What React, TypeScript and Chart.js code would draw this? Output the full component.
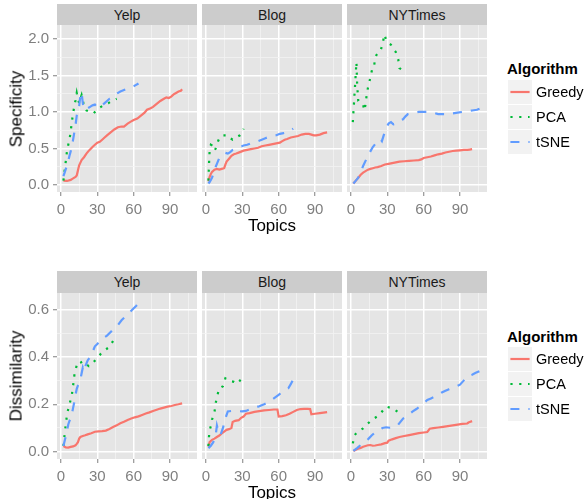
import React, { useEffect, useRef } from 'react';
import { Chart, registerables } from 'chart.js';

Chart.register(...registerables);

// ---------- data ----------
const facets = ['Yelp', 'Blog', 'NYTimes'];
const algorithms = ['Greedy', 'PCA', 'tSNE'];
const xTickValues = [0, 15, 30, 45, 60, 75, 90, 105];
const specTickValues = [0, 0.25, 0.5, 0.75, 1, 1.25, 1.5, 1.75, 2];
const dissTickValues = [0, 0.1, 0.2, 0.3, 0.4, 0.5, 0.6];

// Specificity – Yelp
const specYelpGreedyX = [2,5,8,10,12,13,14,15,17,19,21,23,26,28,30,32,34,36,38,41,44,47,50,52,55,58,60,63,66,69,71,74,76,79,82,85,87,89,91,93,95,97,99,100];
const specYelpGreedyY = [0.06,0.055,0.07,0.09,0.11,0.13,0.2,0.27,0.34,0.38,0.43,0.47,0.52,0.55,0.58,0.59,0.62,0.65,0.68,0.72,0.76,0.79,0.80,0.80,0.84,0.87,0.89,0.91,0.95,0.99,1.03,1.05,1.07,1.11,1.15,1.18,1.20,1.19,1.21,1.24,1.26,1.28,1.29,1.31];
const specYelpPcaX = [2,3,4,5,6,7,8,9,10,11,12,13,14,15,16,17,18,19,21,24,27,30,33,36,39,42,46];
const specYelpPcaY = [0.06,0.2,0.33,0.47,0.55,0.62,0.73,0.87,0.98,1.08,1.16,1.26,1.18,1.12,1.18,1.23,1.16,1.08,1.02,1.0,0.98,1.04,1.07,1.1,1.12,1.15,1.18];
const specYelpTsneX = [2,3,4,5,6,7,8,9,10,11,12,13,14,15,16,17,18,19,20,22,24,26,28,30,32,34,36,38,40,43,46,49,52,55,58,61,64];
const specYelpTsneY = [0.12,0.17,0.22,0.27,0.33,0.40,0.46,0.52,0.62,0.72,0.82,0.95,1.02,1.08,1.22,1.27,1.12,1.04,1.03,1.05,1.07,1.09,1.10,1.06,1.07,1.09,1.12,1.15,1.18,1.21,1.25,1.28,1.30,1.32,1.34,1.36,1.39];

// Specificity – Blog
const specBlogGreedyX = [2,3,4,5,7,9,11,13,15,16,17,19,21,23,25,28,31,34,37,40,43,46,49,52,55,58,61,63,65,67,70,73,76,79,82,85,87,89,91,94,97,100];
const specBlogGreedyY = [0.05,0.11,0.15,0.18,0.21,0.22,0.21,0.22,0.23,0.28,0.32,0.36,0.40,0.42,0.43,0.45,0.47,0.48,0.49,0.50,0.51,0.53,0.54,0.55,0.56,0.57,0.58,0.60,0.62,0.63,0.65,0.66,0.67,0.69,0.70,0.70,0.69,0.68,0.68,0.69,0.71,0.72];
const specBlogPcaX = [2,2.3,2.6,3,3.5,4,5,6,7,8,9,10,11,12,13,14,16,18,20,22,24,26,28,30,31];
const specBlogPcaY = [0.06,0.2,0.33,0.47,0.52,0.55,0.54,0.5,0.47,0.5,0.55,0.6,0.64,0.66,0.67,0.68,0.68,0.68,0.64,0.62,0.64,0.66,0.68,0.72,0.77];
const specBlogTsneX = [2,3,4,5,6,7,8,9,10,11,12,14,16,18,20,22,25,28,31,34,37,40,43,46,49,52,55,58,61,64,67,70,72];
const specBlogTsneY = [0.02,0.04,0.07,0.1,0.15,0.2,0.25,0.29,0.33,0.37,0.39,0.42,0.44,0.43,0.45,0.48,0.50,0.52,0.54,0.55,0.57,0.58,0.60,0.62,0.64,0.66,0.67,0.68,0.70,0.71,0.72,0.75,0.77];

// Specificity – NYTimes
const specNytGreedyX = [2,4,6,8,10,12,14,16,18,20,22,25,28,31,34,37,40,44,48,52,56,58,60,63,66,69,72,75,78,81,84,87,90,93,96,98,100];
const specNytGreedyY = [0.02,0.06,0.1,0.14,0.17,0.19,0.21,0.22,0.23,0.24,0.245,0.26,0.28,0.29,0.30,0.31,0.32,0.325,0.33,0.335,0.34,0.35,0.37,0.38,0.39,0.405,0.42,0.43,0.445,0.455,0.465,0.47,0.475,0.48,0.48,0.485,0.49];
const specNytPcaX = [1.5,2,2.5,3,3.5,4,4.5,5,5.5,6,7,8,9,10,11,12,13,14,15,16,17,18,19,20,21,22,24,26,27.5,29,31,33,35,37,39,40,42,45];
const specNytPcaY = [0.86,1.0,1.13,1.27,1.40,1.55,1.68,1.41,1.27,1.15,1.13,1.12,1.11,1.10,1.02,1.10,1.24,1.33,1.40,1.47,1.55,1.61,1.62,1.74,1.78,1.80,1.82,1.92,2.06,1.99,1.94,1.92,1.86,1.82,1.72,1.60,1.58,1.57];
const specNytTsneX = [2,4,6,8,10,12,14,16,18,20,22,24,25.5,27,29,31,33,35,37,40,43,45,47,50,53,56,60,64,68,72,76,80,84,88,92,96,100,104,107];
const specNytTsneY = [0.02,0.06,0.1,0.18,0.26,0.33,0.40,0.46,0.52,0.56,0.6,0.63,0.60,0.68,0.78,0.84,0.86,0.83,0.84,0.88,0.90,0.94,0.97,0.98,0.99,1.0,1.0,1.0,0.99,0.97,0.97,0.97,0.98,0.99,1.0,1.01,1.02,1.03,1.05];

// Dissimilarity – Yelp
const dissYelpGreedyX = [2,4,6,8,10,12,13,14,15,16,18,20,22,25,28,31,34,37,40,43,46,49,52,55,58,61,64,67,70,73,76,79,82,85,88,91,94,97,100];
const dissYelpGreedyY = [0.024,0.018,0.017,0.02,0.022,0.027,0.033,0.04,0.055,0.062,0.066,0.069,0.073,0.078,0.084,0.086,0.087,0.089,0.096,0.104,0.111,0.12,0.126,0.134,0.14,0.145,0.149,0.155,0.161,0.166,0.172,0.177,0.182,0.186,0.19,0.193,0.197,0.2,0.204];
const dissYelpPcaX = [2,3,4,5,6,7,8,9,10,11,12,13,14,15,16,18,20,23,26,29,33,36,40,44];
const dissYelpPcaY = [0.024,0.073,0.118,0.157,0.18,0.199,0.22,0.241,0.279,0.321,0.345,0.365,0.36,0.372,0.375,0.382,0.372,0.361,0.375,0.389,0.414,0.428,0.442,0.476];
const dissYelpTsneX = [2,3,4,5,6,7,8,9,10,11,12,13,14,15,16,17,18,19,20,22,24,26,28,30,32,35,38,41,44,47,50,53,56,59,62,65];
const dissYelpTsneY = [0.024,0.045,0.066,0.09,0.115,0.13,0.14,0.16,0.185,0.21,0.24,0.265,0.28,0.29,0.305,0.33,0.355,0.34,0.36,0.385,0.40,0.42,0.445,0.455,0.465,0.48,0.49,0.505,0.52,0.535,0.555,0.57,0.585,0.60,0.615,0.632];

// Dissimilarity – Blog
const dissBlogGreedyX = [2,3,5,7,9,11,13,15,17,19,21,22,24,27,29,31,33,36,40,44,48,52,56,59,60,63,66,69,72,75,78,81,84,86,87,90,94,97,100];
const dissBlogGreedyY = [0.021,0.04,0.05,0.055,0.062,0.068,0.077,0.085,0.092,0.095,0.1,0.125,0.13,0.133,0.143,0.148,0.16,0.163,0.168,0.171,0.174,0.176,0.178,0.178,0.148,0.15,0.154,0.16,0.168,0.176,0.18,0.181,0.181,0.180,0.158,0.16,0.163,0.165,0.167];
const dissBlogPcaX = [2,2.5,3,4,5,6,7,8,9,10,11,12,14,16,18,20,23,26,28,30];
const dissBlogPcaY = [0.024,0.066,0.09,0.108,0.136,0.15,0.167,0.206,0.227,0.25,0.269,0.27,0.276,0.31,0.305,0.298,0.295,0.287,0.3,0.312];
const dissBlogTsneX = [2,4,6,8,9,10,12,14,16,18,21,24,27,30,33,36,40,44,48,52,56,60,64,68,70,71.5];
const dissBlogTsneY = [0.015,0.025,0.04,0.07,0.11,0.09,0.07,0.1,0.14,0.17,0.172,0.172,0.171,0.17,0.172,0.178,0.185,0.192,0.2,0.21,0.225,0.24,0.255,0.268,0.285,0.3];

// Dissimilarity – NYTimes
const dissNytGreedyX = [2,4,6,8,10,12,14,16,18,20,22,25,28,30,31,34,37,40,44,48,52,56,60,63,64,65,68,72,76,80,84,88,92,96,97,98,100];
const dissNytGreedyY = [0.003,0.008,0.013,0.016,0.021,0.024,0.027,0.028,0.025,0.026,0.028,0.031,0.036,0.038,0.046,0.052,0.057,0.062,0.066,0.07,0.074,0.078,0.081,0.083,0.09,0.097,0.099,0.102,0.105,0.108,0.111,0.114,0.117,0.119,0.123,0.125,0.129];
const dissNytPcaX = [1.5,3,5,7,10,13,16,19,22,25,27,29,32,35,38,41];
const dissNytPcaY = [0.035,0.07,0.082,0.09,0.098,0.115,0.128,0.14,0.15,0.165,0.178,0.19,0.186,0.181,0.17,0.158];
const dissNytTsneX = [2,5,8,11,14,17,20,23,26,29,32,35,38,41,43,45,48,51,54,57,60,63,66,69,72,75,78,81,84,87,90,93,96,100,103,106];
const dissNytTsneY = [0.003,0.015,0.028,0.038,0.052,0.068,0.082,0.09,0.1,0.103,0.101,0.102,0.108,0.127,0.14,0.145,0.158,0.17,0.18,0.192,0.205,0.218,0.225,0.232,0.24,0.25,0.257,0.264,0.27,0.276,0.283,0.3,0.318,0.325,0.333,0.34];

// ---------- styling ----------
const FONT = '"Liberation Sans", Arial, Helvetica, sans-serif';
const COLORS: Record<string, string> = { Greedy: '#F8766D', PCA: '#00BA38', tSNE: '#619CFF' };
const DASH: Record<string, number[]> = { Greedy: [], PCA: [2.2, 6.6], tSNE: [9, 9] };
const LINE_W = 2.2;
const PANEL_LEFT = [57, 202, 347];
const PANEL_W = 140;
const AXIS_W = 57;
const AXIS_H = 30;
const X_MIN = -3.3;
const X_MAX = 112.3;

type Series = { x: number[]; y: number[] }[];

const rows = [
  {
    title: 'Specificity',
    stripTop: 4,
    panelTop: 25,
    panelH: 167,
    yMin: -0.096,
    yMax: 2.19,
    yTicks: specTickValues,
    isMajorY: (v: number) => Math.abs(v * 2 - Math.round(v * 2)) < 1e-6,
    series: [
      [{ x: specYelpGreedyX, y: specYelpGreedyY }, { x: specYelpPcaX, y: specYelpPcaY }, { x: specYelpTsneX, y: specYelpTsneY }],
      [{ x: specBlogGreedyX, y: specBlogGreedyY }, { x: specBlogPcaX, y: specBlogPcaY }, { x: specBlogTsneX, y: specBlogTsneY }],
      [{ x: specNytGreedyX, y: specNytGreedyY }, { x: specNytPcaX, y: specNytPcaY }, { x: specNytTsneX, y: specNytTsneY }],
    ] as Series[],
    legendTitleY: 68.3,
    legendRowTop: 80.3,
    xTitleY: 224.5,
  },
  {
    title: 'Dissimilarity',
    stripTop: 271,
    panelTop: 293,
    panelH: 166,
    yMin: -0.031,
    yMax: 0.67,
    yTicks: dissTickValues,
    isMajorY: (v: number) => Math.abs(v * 5 - Math.round(v * 5)) < 1e-6,
    series: [
      [{ x: dissYelpGreedyX, y: dissYelpGreedyY }, { x: dissYelpPcaX, y: dissYelpPcaY }, { x: dissYelpTsneX, y: dissYelpTsneY }],
      [{ x: dissBlogGreedyX, y: dissBlogGreedyY }, { x: dissBlogPcaX, y: dissBlogPcaY }, { x: dissBlogTsneX, y: dissBlogTsneY }],
      [{ x: dissNytGreedyX, y: dissNytGreedyY }, { x: dissNytPcaX, y: dissNytPcaY }, { x: dissNytTsneX, y: dissNytTsneY }],
    ] as Series[],
    legendTitleY: 336,
    legendRowTop: 347,
    xTitleY: 491.5,
  },
];

const panelBg = {
  id: 'panelBg',
  beforeDraw(chart: any) {
    const { ctx, chartArea: a } = chart;
    ctx.save();
    ctx.fillStyle = '#E5E5E5';
    ctx.fillRect(a.left, a.top, a.right - a.left, a.bottom - a.top);
    ctx.restore();
  },
};

const isMajorX = (v: number) => Math.abs(v % 30) < 1e-6;

function Panel(props: {
  col: number;
  row: (typeof rows)[number];
}) {
  const { col, row } = props;
  const ref = useRef<HTMLCanvasElement>(null);
  const width = AXIS_W + PANEL_W;
  const height = row.panelH + AXIS_H;
  useEffect(() => {
    const showY = col === 0;
    const series = row.series[col];
    const chart = new Chart(ref.current as HTMLCanvasElement, {
      type: 'line',
      data: {
        datasets: algorithms.map((name, i) => ({
          label: name,
          data: series[i].x.map((x, j) => ({ x, y: series[i].y[j] })),
          borderColor: COLORS[name],
          borderWidth: LINE_W,
          borderDash: DASH[name],
          borderCapStyle: 'butt',
          pointRadius: 0,
          tension: 0,
          fill: false,
          order: 2 - i,
        })),
      },
      options: {
        responsive: false,
        animation: false,
        events: [],
        layout: { padding: 0 },
        plugins: {
          legend: { display: false },
          tooltip: { enabled: false },
          title: { display: false },
        },
        scales: {
          x: {
            type: 'linear',
            min: X_MIN,
            max: X_MAX,
            afterBuildTicks: (s: any) => {
              s.ticks = xTickValues.map((v) => ({ value: v }));
            },
            afterFit: (s: any) => {
              s.height = AXIS_H;
              s.paddingLeft = 0;
              s.paddingRight = 0;
            },
            border: { display: false },
            grid: {
              color: (c: any) => (isMajorX(c.tick.value) ? '#FFFFFF' : '#F2F2F2'),
              lineWidth: (c: any) => (isMajorX(c.tick.value) ? 1.5 : 0.8),
              tickColor: (c: any) => (isMajorX(c.tick.value) ? '#7F7F7F' : 'rgba(0,0,0,0)'),
              tickWidth: 1,
              tickLength: 4,
              drawTicks: true,
            },
            ticks: {
              autoSkip: false,
              maxRotation: 0,
              minRotation: 0,
              padding: 5,
              color: '#7F7F7F',
              font: { family: FONT, size: 15 },
              callback: (v: any) => (isMajorX(Number(v)) ? String(v) : ''),
            },
          },
          y: {
            type: 'linear',
            min: row.yMin,
            max: row.yMax,
            afterBuildTicks: (s: any) => {
              s.ticks = row.yTicks.map((v) => ({ value: v }));
            },
            afterFit: (s: any) => {
              s.width = AXIS_W;
              s.paddingTop = 0;
              s.paddingBottom = 0;
            },
            border: { display: false },
            grid: {
              color: (c: any) => (row.isMajorY(c.tick.value) ? '#FFFFFF' : '#F2F2F2'),
              lineWidth: (c: any) => (row.isMajorY(c.tick.value) ? 1.5 : 0.8),
              tickColor: (c: any) => (row.isMajorY(c.tick.value) ? '#7F7F7F' : 'rgba(0,0,0,0)'),
              tickWidth: 1,
              tickLength: 4,
              drawTicks: showY,
            },
            ticks: {
              display: showY,
              autoSkip: false,
              padding: 4,
              color: '#7F7F7F',
              font: { family: FONT, size: 15 },
              callback: (v: any) => (row.isMajorY(Number(v)) ? Number(v).toFixed(1) : ''),
            },
          },
        },
      },
      plugins: [panelBg],
    } as any);
    return () => chart.destroy();
  }, [col, row]);
  return (
    <canvas
      ref={ref}
      width={width}
      height={height}
      style={{ position: 'absolute', left: PANEL_LEFT[col] - AXIS_W, top: row.panelTop, width, height }}
    />
  );
}

function Legend(props: { titleY: number; rowTop: number }) {
  const { titleY, rowTop } = props;
  return (
    <>
      <div
        style={{
          position: 'absolute',
          left: 507,
          top: titleY,
          transform: 'translateY(-50%)',
          font: `bold 15px ${FONT}`,
          lineHeight: 1,
          color: '#000',
          whiteSpace: 'nowrap',
        }}
      >
        Algorithm
      </div>
      {algorithms.map((name, i) => (
        <React.Fragment key={name}>
          <div
            style={{
              position: 'absolute',
              left: 508,
              top: rowTop + i * 25,
              width: 24,
              height: 24,
              background: '#F2F2F2',
            }}
          >
            <svg width={24} height={24} style={{ display: 'block' }}>
              <line
                x1={2.4}
                y1={12}
                x2={21.6}
                y2={12}
                stroke={COLORS[name]}
                strokeWidth={LINE_W}
                strokeDasharray={DASH[name].length ? DASH[name].join(' ') : undefined}
              />
            </svg>
          </div>
          <div
            style={{
              position: 'absolute',
              left: 536,
              top: rowTop + i * 25 + 12,
              transform: 'translateY(-50%)',
              font: `14.5px ${FONT}`,
              lineHeight: 1,
              color: '#000',
              whiteSpace: 'nowrap',
            }}
          >
            {name}
          </div>
        </React.Fragment>
      ))}
    </>
  );
}

export default function App() {
  return (
    <div style={{ position: 'absolute', left: 0, top: 0, width: 584, height: 499, background: '#FFFFFF', overflow: 'hidden' }}>
      {rows.map((row, r) => (
        <React.Fragment key={r}>
          {facets.map((f, c) => (
            <div
              key={f}
              style={{
                position: 'absolute',
                left: PANEL_LEFT[c],
                top: row.stripTop,
                width: PANEL_W,
                height: row.panelTop - row.stripTop,
                background: '#CCCCCC',
                display: 'flex',
                alignItems: 'center',
                justifyContent: 'center',
                font: `14px ${FONT}`,
                color: '#1A1A1A',
              }}
            >
              {f}
            </div>
          ))}
          {facets.map((f, c) => (
            <Panel key={'p' + f} col={c} row={row} />
          ))}
          <div
            style={{
              position: 'absolute',
              left: 15.5,
              top: row.panelTop + row.panelH / 2,
              transform: 'translate(-50%, -50%) rotate(-90deg)',
              font: `17px ${FONT}`,
              lineHeight: 1,
              color: '#000',
              whiteSpace: 'nowrap',
            }}
          >
            {row.title}
          </div>
          <div
            style={{
              position: 'absolute',
              left: 272,
              top: row.xTitleY,
              transform: 'translate(-50%, -50%)',
              font: `17px ${FONT}`,
              lineHeight: 1,
              color: '#000',
              whiteSpace: 'nowrap',
            }}
          >
            Topics
          </div>
          <Legend titleY={row.legendTitleY} rowTop={row.legendRowTop} />
        </React.Fragment>
      ))}
    </div>
  );
}
